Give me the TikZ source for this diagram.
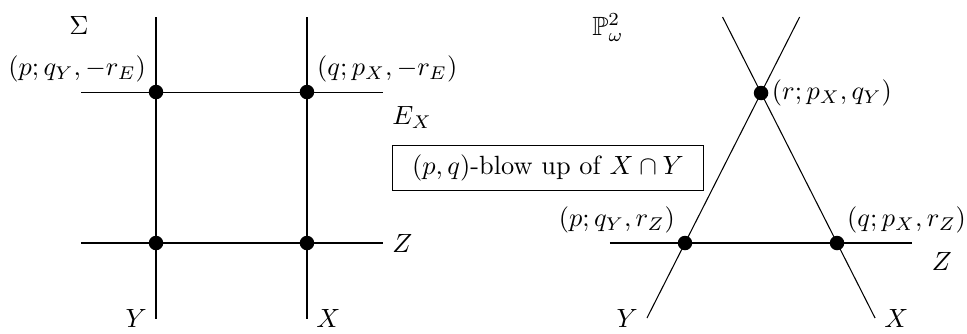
\documentclass[tikz,border=0pt]{standalone}
\usepackage{amssymb}
\begin{document}
\begin{tikzpicture}
\tikzset{v/.style={circle,fill,inner sep=0pt,minimum size=5.5pt},
  every label/.style={label distance=-2.5pt}}
\useasboundingbox (0,0) rectangle (12.893,4.44);

% left surface
\coordinate (yt) at (2.08,4.213);
\coordinate (yb) at (2.08,0.187);
\coordinate (xt) at (4.093,4.213);
\coordinate (xb) at (4.093,0.187);
\coordinate (el) at (1.08,3.213);
\coordinate (er) at (5.107,3.213);
\coordinate (zl) at (1.08,1.2);
\coordinate (zr) at (5.107,1.2);
\draw (yt)--(yb);
\draw (xt)--(xb);
\draw (el)--(er);
\draw (zl)--(zr);
\node[v,label=above left:{$(p;q_Y,-r_E)$}] (pe) at (2.08,3.213) {};
\node[v,label=above right:{$(q;p_X,-r_E)$}] (qe) at (4.093,3.213) {};
\node[v] (pz) at (2.08,1.2) {};
\node[v] (qz) at (4.093,1.2) {};
\node[below right,yshift=-2pt] (le) at (er) {$E_X$};
\node[right] (lz) at (zr) {$Z$};
\node[left] (ly) at (yb) {$Y$};
\node[right] (lx) at (xb) {$X$};
\node (sig) at (1.053,4.1) {$\Sigma$};

\node[draw,inner xsep=7.5pt,inner ysep=3.7pt] (bl) at (7.307,2.2) {$(p,q)$-blow up of $X\cap Y$};

% right surface
\coordinate (Yt) at (10.661,4.213);
\coordinate (Yb) at (8.626,0.2);
\coordinate (Xt) at (9.634,4.213);
\coordinate (Xb) at (11.667,0.2);
\coordinate (Zl) at (8.133,1.2);
\coordinate (Zr) at (12.16,1.2);
\draw (Yt)--(Yb);
\draw (Xt)--(Xb);
\draw (Zl)--(Zr);
\node[v,label={[inner sep=1pt,label distance=0pt]right:{$(r;p_X,q_Y)$}}] (r) at (10.147,3.2) {};
\node[v,label=above left:{$(p;q_Y,r_Z)$}] (p) at (9.133,1.2) {};
\node[v,label=above right:{$(q;p_X,r_Z)$}] (q) at (11.16,1.2) {};
\node[below right,xshift=4pt] (LZ) at (Zr) {$Z$};
\node[left] (LY) at (Yb) {$Y$};
\node[right] (LX) at (Xb) {$X$};
\node (pw) at (8.107,4.07) {$\mathbb{P}^2_\omega$};
\end{tikzpicture}
\end{document}
